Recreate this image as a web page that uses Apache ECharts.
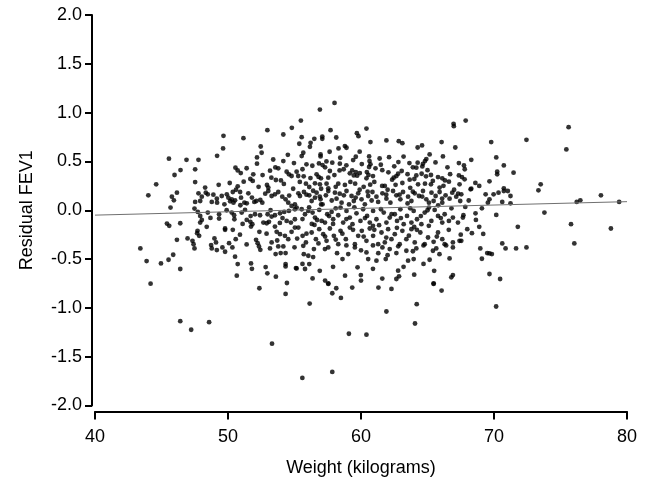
<!DOCTYPE html>
<html>
<head>
<meta charset="utf-8">
<script src="https://cdn.jsdelivr.net/npm/echarts@6/dist/echarts.min.js"></script>
<style>
html,body{margin:0;padding:0;background:#fff;}
#chart{width:655px;height:485px;}
</style>
</head>
<body>
<div id="chart"></div>
<script>
// Weight (kg) and residual FEV1 pairs
const weight = [
52.96,54.8,54.16,55.48,49.66,51.16,49.63,49.18,52.46,52.53,52.18,52.18,55.36,54.5,45.56,46.88,47.78,46.43,45.98,47.53,47.53,44.6,50.56,50.73,50.96,51.9,51.68,51.86,50.13,50.73,51.18,53.16,53.56,53.78,54.16,54.96,54.41,54.58,54.78,55.16,55.28,53.26,53.98,52.93,53.03,48.28,
58.01,56.91,57.71,59.69,59.81,60.41,55.54,56.49,56.21,56.16,57.09,57.09,58.14,58.79,58.91,58.31,57.64,56.96,56.96,55.54,55.66,58.44,60.71,61.91,62.84,63.11,64.26,64.59,66.06,66.96,66.98,67.09,66.16,65.16,64.91,64.81,64.66,64.61,64.26,64.16,63.64,62.81,62.11,60.61,60.64,60.71,60.61,59.61,59.41,58.41,57.84,56.84,57.11,56.34,61.49,60.06,67.36,59.34,59.16,59.46,59.71,59.91,59.61,60.44,60.56,60.41,62.06,62.79,62.66,62.46,62.34,63.06,61.09,58.39,57.66,57.54,56.66,56.81,56.99,56.54,56.91,55.69,55.86,56.11,57.41,57.54,58.29,58.79,59.56,60.69,61.59,61.79,63.11,63.66,64.01,64.16,64.56,64.89,65.26,64.29,64.81,65.26,65.79,66.11,66.31,66.61,67.36,65.91,67.41,
67.87,69.79,72.44,75.61,75.44,70.17,68.29,67.74,70.74,70.24,70.24,71.47,67.59,67.79,68.89,69.66,68.29,70.74,73.51,
44.01,45.78,45.93,46.16,45.68,47.78,48.03,47.91,48.33,48.48,47.53,48.78,49.16,49.18,49.53,49.73,49.91,50.03,50.16,50.28,50.41,50.53,50.36,50.91,50.98,50.93,51.23,51.41,51.53,51.98,52.13,52.43,52.58,53.03,53.28,53.53,53.78,54.08,54.33,54.53,54.78,55.03,47.48,47.73,47.91,48.03,47.91,48.48,48.68,49.33,49.33,50.28,50.46,50.48,51.03,51.28,51.41,51.68,51.83,51.73,52.03,52.41,52.66,52.91,53.08,52.98,53.28,53.53,53.91,54.23,54.58,55.03,53.53,53.66,53.91,54.28,54.53,54.78,55.03,54.73,54.41,55.03,45.41,45.58,46.41,46.16,46.96,47.33,47.41,47.48,47.71,47.83,47.68,48.98,48.73,48.78,49.16,49.58,49.78,49.78,49.78,50.36,50.08,50.33,50.58,50.53,50.73,50.66,51.73,52.11,52.23,52.33,52.43,52.36,52.83,52.96,53.16,53.28,53.58,53.96,54.33,53.78,54.16,54.33,54.33,55.11,54.43,43.41,43.88,44.96,45.53,45.88,46.41,44.18,
55.29,55.41,55.71,56.11,56.29,56.54,56.66,56.96,57.11,57.36,57.54,58.04,58.16,58.54,58.71,58.91,59.29,59.46,59.79,60.04,60.29,60.54,60.86,61.16,61.29,61.61,61.91,62.21,62.41,62.66,62.96,63.16,63.54,63.79,64.04,64.36,64.66,64.91,65.11,65.46,65.61,65.91,66.11,66.36,66.66,66.86,67.16,67.46,
55.16,55.54,55.79,56.04,56.36,56.54,56.86,57.04,57.29,57.46,57.79,57.91,58.29,58.46,58.66,58.91,59.16,59.36,59.66,59.96,60.16,60.46,60.66,60.91,61.16,61.36,61.71,61.91,62.16,62.54,62.71,62.96,63.21,63.46,63.79,63.96,64.21,64.54,64.79,65.11,65.29,65.54,65.79,66.11,66.29,66.61,66.91,67.29,
55.29,55.61,55.86,56.29,56.61,56.86,57.16,57.41,57.66,57.96,58.29,58.46,58.86,59.16,59.54,59.79,60.06,60.41,60.66,60.91,61.29,61.54,61.79,62.04,62.29,62.54,62.91,63.11,63.41,63.79,64.04,64.46,64.79,65.04,65.46,65.79,66.11,66.29,66.91,67.41,
55.66,56.04,56.46,57.29,57.54,58.61,59.04,59.54,59.74,60.41,60.54,61.16,61.61,61.86,62.16,62.66,63.41,63.54,63.96,64.16,65.16,65.41,65.66,66.66,66.91,
55.16,55.79,56.11,56.36,57.54,59.99,62.79,62.86,62.66,65.46,66.79,66.91,
67.54,68.24,69.37,69.97,70.34,70.74,71.04,71.24,69.66,69.54,70.62,71.24,73.34,78.04,76.22,76.49,79.41,67.84,69.09,68.61,68.64,67.66,70.17,73.79,67.54,67.99,68.34,68.89,69.19,71.79,75.79,78.79,70.62,70.87,71.66,72.44,76.04,68.97,69.49,69.66,69.84,69.09,69.66,70.46,
52.36,54.33,46.41,47.23,48.58,53.31,
57.54,58.14,57.84,58.49,59.34,61.31,62.29,65.46,66.06,56.14,61.91,64.19,64.06,59.09,60.41,57.84,55.59,
70.16
];
const residual = [
0.82,0.844,0.776,0.919,0.762,0.738,0.633,0.558,0.653,0.589,0.541,0.477,0.681,0.568,0.528,0.517,0.517,0.412,0.361,0.419,0.289,0.266,0.436,0.408,0.381,0.368,0.32,0.3,0.279,0.245,0.293,0.405,0.439,0.429,0.504,0.483,0.395,0.368,0.351,0.395,0.351,0.334,0.306,0.259,0.232,0.232,
1.099,1.031,0.82,0.789,0.759,0.837,0.749,0.732,0.691,0.65,0.755,0.732,0.745,0.657,0.64,0.633,0.599,0.572,0.551,0.555,0.589,0.538,0.698,0.715,0.708,0.687,0.643,0.664,0.698,0.885,0.861,0.643,0.551,0.572,0.524,0.504,0.476,0.449,0.487,0.436,0.483,0.493,0.544,0.551,0.504,0.47,0.443,0.548,0.514,0.477,0.487,0.48,0.463,0.456,0.466,0.473,0.483,0.408,0.378,0.357,0.354,0.381,0.391,0.391,0.361,0.327,0.388,0.374,0.35,0.334,0.313,0.402,0.429,0.408,0.402,0.334,0.368,0.341,0.327,0.276,0.266,0.347,0.272,0.238,0.272,0.225,0.272,0.259,0.272,0.262,0.249,0.249,0.279,0.313,0.32,0.357,0.374,0.347,0.361,0.266,0.272,0.266,0.34,0.327,0.306,0.293,0.357,0.232,0.266,
0.919,0.698,0.721,0.851,0.623,0.541,0.517,0.459,0.459,0.395,0.368,0.385,0.34,0.317,0.249,0.296,0.221,0.225,0.266,
0.153,0.139,0.102,0.18,0.027,0.173,0.139,0.095,0.18,0.163,0.085,0.085,0.119,0.078,0.146,0.061,0.163,0.129,0.092,0.112,0.078,0.102,0.187,0.187,0.129,0.051,0.078,0.071,0.173,0.085,0.095,0.105,0.078,0.197,0.146,0.163,0.187,0.139,0.112,0.078,0.044,0.061,0.017,-0.017,-0.058,-0.099,-0.126,-0.024,-0.079,-0.041,-0.085,-0.024,-0.051,-0.092,-0.024,0.003,-0.099,-0.119,-0.143,-0.167,-0.041,-0.051,-0.126,-0.133,-0.119,-0.041,-0.065,-0.051,-0.031,-0.017,-0.007,0.01,-0.167,-0.221,-0.245,-0.262,-0.296,-0.221,-0.177,-0.126,-0.109,-0.092,-0.136,-0.16,-0.133,-0.303,-0.289,-0.313,-0.347,-0.391,-0.211,-0.262,-0.235,-0.289,-0.357,-0.391,-0.408,-0.381,-0.425,-0.187,-0.201,-0.201,-0.337,-0.381,-0.296,-0.476,-0.551,-0.67,-0.545,-0.303,-0.337,-0.371,-0.405,-0.221,-0.582,-0.646,-0.391,-0.33,-0.449,-0.439,-0.439,-0.371,-0.371,-0.551,-0.575,-0.592,-0.745,-0.391,-0.521,-0.545,-0.507,-0.456,-0.602,-0.752,
0.173,0.146,0.187,0.153,0.095,0.129,0.18,0.112,0.061,0.153,0.197,0.18,0.119,0.078,0.153,0.197,0.146,0.095,0.173,0.112,0.061,0.146,0.187,0.139,0.085,0.173,0.119,0.078,0.197,0.153,0.112,0.187,0.139,0.095,0.173,0.146,0.197,0.112,0.078,0.095,0.146,0.187,0.078,0.153,0.119,0.18,0.139,0.095,
0.027,0.01,-0.041,-0.007,-0.024,-0.075,0.003,-0.109,-0.126,-0.041,-0.017,-0.092,-0.051,0.027,-0.126,-0.007,-0.075,-0.143,-0.031,-0.109,0.01,-0.058,-0.126,-0.007,-0.092,-0.153,-0.024,-0.126,-0.075,-0.041,-0.109,0.01,-0.143,-0.058,-0.126,-0.007,-0.092,-0.143,-0.024,0.027,-0.109,0.003,-0.058,-0.126,-0.041,-0.109,-0.075,-0.126,
-0.177,-0.262,-0.33,-0.228,-0.296,-0.194,-0.245,-0.313,-0.187,-0.262,-0.347,-0.211,-0.296,-0.177,-0.347,-0.262,-0.211,-0.313,-0.187,-0.262,-0.347,-0.228,-0.33,-0.194,-0.296,-0.245,-0.347,-0.211,-0.296,-0.194,-0.33,-0.228,-0.347,-0.279,-0.323,-0.228,-0.296,-0.347,-0.33,-0.313,
-0.364,-0.466,-0.398,-0.398,-0.381,-0.5,-0.449,-0.381,-0.585,-0.432,-0.5,-0.517,-0.381,-0.5,-0.398,-0.439,-0.415,-0.517,-0.5,-0.391,-0.507,-0.415,-0.391,-0.493,-0.381,
-0.596,-0.602,-0.551,-0.698,-0.749,-0.664,-0.619,-0.677,-0.704,-0.749,-0.687,-0.664,
0.163,0.214,0.163,0.163,0.18,0.197,0.197,0.146,0.112,0.078,0.085,0.071,0.204,0.153,0.085,0.102,0.085,0.034,0.02,-0.031,-0.099,-0.075,-0.048,-0.024,-0.313,-0.194,-0.235,-0.17,-0.242,-0.17,-0.143,-0.187,-0.34,-0.391,-0.391,-0.381,-0.34,-0.391,-0.439,-0.442,-0.449,-0.497,-0.653,-0.704,
-0.799,-0.857,-1.136,-1.224,-1.146,-1.367,
-0.755,-0.799,-0.85,-0.898,-0.792,-0.792,-0.806,-0.755,-0.823,-0.956,-1.037,-0.962,-1.16,-1.265,-1.275,-1.656,-1.718,
-0.986
];
// further points estimated in the crowded centre of the cloud
const weightCentre = [
53.4,55.9,57.4,58.9,61.4,62.5,63.2,65.6,66.5,59.9,
51.4,52.6,53.6,55.6,56.2,58.0,58.7,60.9,61.6,63.5,63.9,65.0,66.7,67.8,57.3,
49.3,50.6,52.3,54.2,54.9,55.4,57.0,58.1,59.2,60.2,61.0,62.6,63.7,65.4,66.2,67.0,68.6,56.4,59.9,62.0,
48.9,51.8,52.8,54.6,55.9,56.9,57.8,58.4,59.6,60.8,61.9,62.9,63.5,64.6,65.3,66.1,67.3,68.1,57.0,59.1,60.5,63.9,65.8,
49.9,51.7,53.2,54.1,55.6,56.1,56.7,57.6,58.1,58.9,59.5,60.3,61.5,62.3,63.0,63.7,64.5,65.0,66.0,66.8,67.7,56.3,60.9,64.0,
48.4,50.9,51.1,52.9,53.9,55.9,56.5,57.3,57.9,58.6,59.4,60.2,61.0,61.9,62.7,63.6,64.2,65.1,65.7,66.6,67.5,55.2,58.1,
49.1,51.4,53.7,55.0,55.7,56.8,58.2,58.9,60.0,60.9,62.0,62.8,63.9,64.7,65.9,66.4,56.4,61.3,
51.8,53.6,55.6,56.9,57.9,58.8,60.9,61.6,63.2,64.0,64.7,65.5,57.3,60.0
];
const residualCentre = [
0.52,0.47,0.5,0.46,0.53,0.45,0.55,0.49,0.44,0.6,
0.43,0.36,0.31,0.42,0.33,0.36,0.42,0.35,0.41,0.37,0.44,0.41,0.37,0.42,0.44,
0.26,0.21,0.24,0.27,0.22,0.29,0.22,0.24,0.29,0.24,0.29,0.26,0.23,0.3,0.25,0.21,0.28,0.2,0.21,0.21,
0.16,0.13,0.17,0.15,0.16,0.14,0.1,0.17,0.13,0.1,0.16,0.16,0.07,0.14,0.18,0.12,0.17,0.1,0.06,0.06,0.19,0.19,0.05,
0.0,-0.06,0.0,-0.08,-0.09,0.03,-0.1,-0.06,0.02,-0.09,0.03,-0.08,0.01,-0.04,-0.08,0.02,-0.06,0.0,-0.08,0.02,-0.05,-0.14,-0.16,-0.17,
-0.17,-0.25,-0.14,-0.24,-0.13,-0.24,-0.15,-0.27,-0.14,-0.24,-0.2,-0.27,-0.2,-0.28,-0.18,-0.26,-0.2,-0.16,-0.27,-0.2,-0.25,-0.29,-0.3,
-0.33,-0.35,-0.31,-0.38,-0.45,-0.34,-0.44,-0.36,-0.41,-0.36,-0.46,-0.37,-0.42,-0.36,-0.45,-0.36,-0.48,-0.44,
-0.6,-0.68,-0.55,-0.62,-0.58,-0.67,-0.6,-0.7,-0.58,-0.66,-0.55,-0.62,-0.72,-0.72
];
// fitted regression line end points
const fitWeight = [40, 80];
const fitResidual = [-0.05, 0.088];
const xTicks = [40, 50, 60, 70, 80];
const yTicks = [-2.0, -1.5, -1.0, -0.5, 0.0, 0.5, 1.0, 1.5, 2.0];

const points = weight.map((w, i) => [w, residual[i]])
  .concat(weightCentre.map((w, i) => [w, residualCentre[i]]));
const fitLine = fitWeight.map((w, i) => [w, fitResidual[i]]);

const FONT = 'Liberation Sans, Arial, sans-serif';
const chart = echarts.init(document.getElementById('chart'), null, {renderer: 'canvas'});
chart.setOption({
  animation: false,
  backgroundColor: '#ffffff',
  grid: {left: 95, right: 28, top: 15, bottom: 79.5, containLabel: false},
  xAxis: {
    type: 'value', min: xTicks[0], max: xTicks[xTicks.length - 1], interval: 10,
    offset: 6,
    name: 'Weight (kilograms)', nameLocation: 'middle', nameGap: 48,
    nameTextStyle: {color: '#000', fontSize: 18, fontFamily: FONT},
    axisLine: {show: true, onZero: false, lineStyle: {color: '#000', width: 2}},
    axisTick: {show: true, inside: false, length: 8, lineStyle: {color: '#000', width: 2}},
    axisLabel: {color: '#000', fontSize: 18, fontFamily: FONT, margin: 17},
    splitLine: {show: false}
  },
  yAxis: {
    type: 'value', min: yTicks[0], max: yTicks[yTicks.length - 1], interval: 0.5,
    offset: 3,
    name: 'Residual FEV1', nameLocation: 'middle', nameGap: 56,
    nameTextStyle: {color: '#000', fontSize: 18, fontFamily: FONT},
    axisLine: {show: true, onZero: false, lineStyle: {color: '#000', width: 2}},
    axisTick: {show: true, inside: false, length: 7, lineStyle: {color: '#000', width: 2}},
    axisLabel: {color: '#000', fontSize: 18, fontFamily: FONT, margin: 10,
      formatter: v => v.toFixed(1)},
    splitLine: {show: false}
  },
  series: [
    {
      type: 'scatter', data: points, symbol: 'circle', symbolSize: 4.8,
      itemStyle: {color: '#000'}, silent: true
    },
    {
      type: 'line', data: fitLine, showSymbol: false, symbol: 'none',
      lineStyle: {color: '#707070', width: 1}, silent: true, z: 3
    }
  ]
});
</script>
</body>
</html>
